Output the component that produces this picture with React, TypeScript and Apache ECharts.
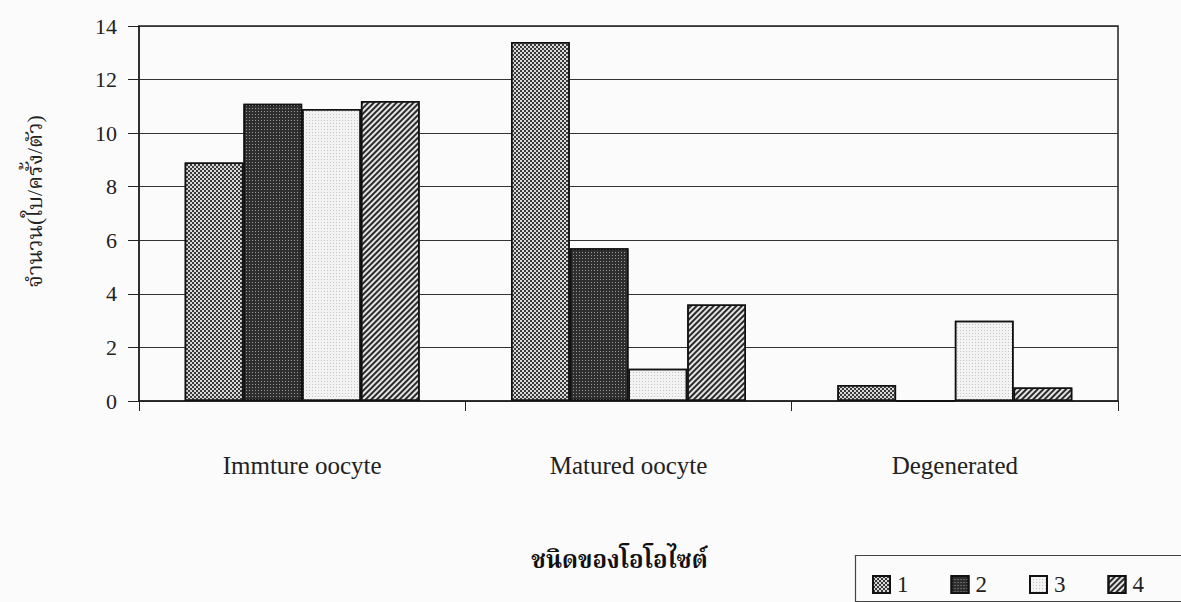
import React, { useEffect, useRef } from "react";
import * as echarts from "echarts";

// Oocyte types on the x axis
const categories = ["Immture oocyte", "Matured oocyte", "Degenerated"];
// Legend groups
const seriesNames = ["1", "2", "3", "4"];
// Counts (ใบ/ครั้ง/ตัว) per group, in category order
const group1 = [8.9, 13.4, 0.6];
const group2 = [11.1, 5.7, 0];
const group3 = [10.9, 1.2, 3.0];
const group4 = [11.2, 3.6, 0.5];
// Y axis range and step
const yMin = 0;
const yMax = 14;
const yStep = 2;

const serifFont = "'Liberation Serif', 'Noto Serif Thai', 'Noto Sans Thai', serif";

// Fill textures for each group: base tone plus a decal pattern
const fills = [
  {
    color: "#d8d8d8",
    decal: {
      symbol: "rect",
      symbolSize: 1,
      color: "#3a3a3a",
      dashArrayX: [
        [2, 2],
        [0, 2, 2, 0],
      ],
      dashArrayY: [2, 0],
    },
  },
  {
    color: "#2e2e2e",
    decal: {
      symbol: "rect",
      symbolSize: 1,
      color: "#9a9a9a",
      dashArrayX: [1, 2],
      dashArrayY: [1, 2],
    },
  },
  {
    color: "#f3f3f3",
    decal: {
      symbol: "rect",
      symbolSize: 1,
      color: "#c4c4c4",
      dashArrayX: [1, 2],
      dashArrayY: [1, 2],
    },
  },
  {
    color: "#e4e4e4",
    decal: {
      symbol: "rect",
      symbolSize: 1,
      color: "#2a2a2a",
      dashArrayX: [1, 0],
      dashArrayY: [1.5, 2],
      rotation: -Math.PI / 4,
    },
  },
];

export default function App() {
  const ref = useRef<HTMLDivElement>(null);

  useEffect(() => {
    if (!ref.current) return;
    const chart = echarts.init(ref.current, null, { renderer: "svg" });
    const data = [group1, group2, group3, group4];

    chart.setOption({
      animation: false,
      backgroundColor: "#fbfbfb",
      grid: {
        left: 139,
        right: 63,
        top: 26,
        bottom: 201,
        show: true,
        borderColor: "#222",
        borderWidth: 1.5,
        backgroundColor: "transparent",
      },
      legend: {
        data: seriesNames,
        left: 872,
        top: 573,
        padding: 0,
        itemWidth: 17,
        itemHeight: 17,
        itemGap: 42,
        icon: "rect",
        textStyle: {
          fontFamily: serifFont,
          fontSize: 23,
          color: "#222",
          padding: [0, 0, 0, 2],
        },
      },
      graphic: [
        {
          type: "rect",
          left: 853,
          top: 553,
          shape: { width: 340, height: 46 },
          style: { fill: "none", stroke: "#444", lineWidth: 1.2 },
          z: 10,
        },
      ],
      xAxis: {
        type: "category",
        data: categories,
        name: "ชนิดของโอโอไซต์",
        nameLocation: "middle",
        nameGap: 147,
        nameTextStyle: {
          fontFamily: serifFont,
          fontSize: 24,
          fontWeight: "bold",
          color: "#111",
          padding: [0, 18, 0, 0],
        },
        axisLine: { lineStyle: { color: "#222", width: 1.5 } },
        axisTick: { show: true, length: 10, lineStyle: { color: "#222" } },
        axisLabel: {
          margin: 52,
          fontFamily: serifFont,
          fontSize: 25,
          color: "#222",
        },
      },
      yAxis: {
        type: "value",
        min: yMin,
        max: yMax,
        interval: yStep,
        name: "จำนวน(ใบ/ครั้ง/ตัว)",
        nameLocation: "middle",
        nameGap: 94,
        nameTextStyle: {
          fontFamily: serifFont,
          fontSize: 22,
          color: "#222",
          padding: [0, 0, 0, 24],
        },
        axisLine: { show: true, lineStyle: { color: "#222", width: 1.5 } },
        axisTick: { show: true, length: 11, lineStyle: { color: "#222" } },
        axisLabel: {
          margin: 22,
          fontFamily: serifFont,
          fontSize: 22,
          color: "#222",
        },
        splitLine: { show: true, lineStyle: { color: "#333", width: 1 } },
      },
      series: seriesNames.map((name, i) => ({
        name,
        type: "bar",
        data: data[i],
        barGap: "0%",
        barCategoryGap: "28%",
        itemStyle: {
          color: fills[i].color,
          decal: fills[i].decal,
          borderColor: "#111",
          borderWidth: 1.5,
        },
      })),
    });

    return () => chart.dispose();
  }, []);

  return (
    <div
      ref={ref}
      style={{ position: "fixed", left: 0, top: 0, width: 1181, height: 602 }}
    />
  );
}
